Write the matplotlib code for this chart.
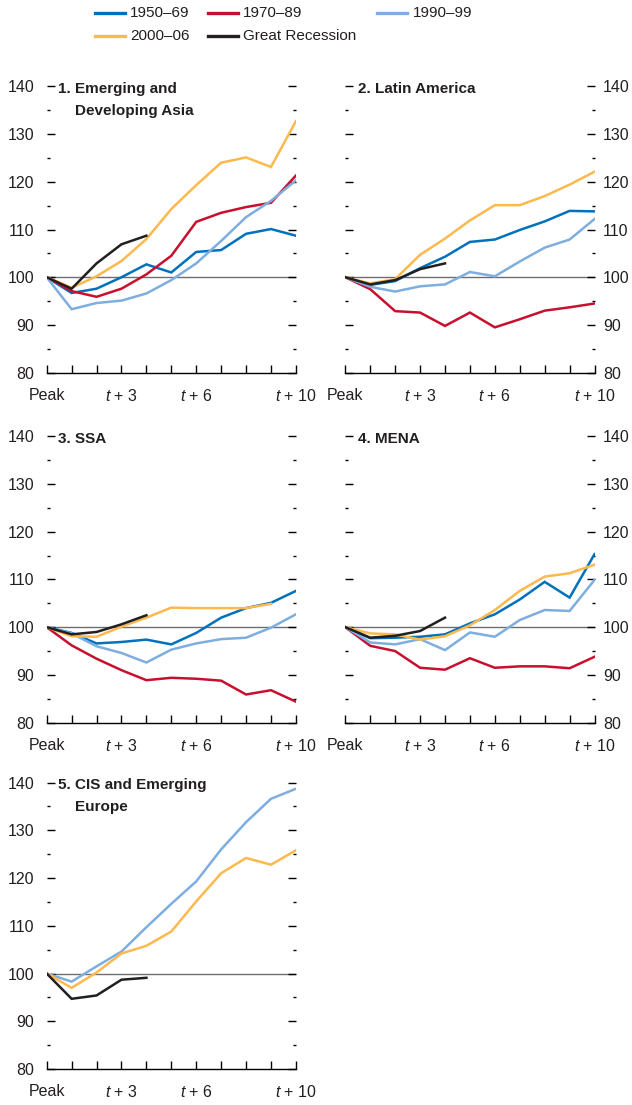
import matplotlib
matplotlib.use("Agg")
import matplotlib.pyplot as plt
from matplotlib import font_manager
from matplotlib.lines import Line2D

names = {f.name for f in font_manager.fontManager.ttflist}
font = "Liberation Sans Narrow" if "Liberation Sans Narrow" in names else "Liberation Sans"
narrow = font.endswith("Narrow")
plt.rcParams["font.family"] = [font, "DejaVu Sans"]
plt.rcParams["mathtext.fontset"] = "custom"
plt.rcParams["mathtext.rm"] = font
plt.rcParams["mathtext.it"] = font + ":italic"

tick_fs = 12.5 if narrow else 11.5
title_fs = 12.5 if narrow else 11
legend_fs = 12.5 if narrow else 11

# data: index (peak = 100), years after peak
years = list(range(11))
series_names = ["1950–69", "1970–89", "1990–99", "2000–06", "Great Recession"]
colors = ["#0072bc", "#c8102e", "#7eaedf", "#fdb94e", "#231f20"]

asia_5069 = [100, 96.7, 97.6, 100.0, 102.7, 101.0, 105.3, 105.7, 109.1, 110.1, 108.7]
asia_7089 = [100, 97.1, 95.9, 97.6, 100.6, 104.5, 111.6, 113.5, 114.7, 115.6, 121.3]
asia_9099 = [100, 93.3, 94.6, 95.1, 96.6, 99.4, 102.9, 107.6, 112.6, 116.0, 120.3]
asia_0006 = [100, 97.8, 100.2, 103.4, 108.0, 114.3, 119.3, 124.0, 125.1, 123.1, 132.7]
asia_gr = [100, 97.6, 102.9, 106.9, 108.7]

latam_5069 = [100, 98.4, 99.2, 101.9, 104.3, 107.4, 107.9, 109.9, 111.7, 113.9, 113.8]
latam_7089 = [100, 97.5, 92.9, 92.6, 89.8, 92.6, 89.5, 91.2, 93.0, 93.7, 94.5]
latam_9099 = [100, 98.0, 97.0, 98.1, 98.5, 101.1, 100.2, 103.3, 106.2, 107.9, 112.2]
latam_0006 = [100, 98.7, 99.6, 104.7, 108.1, 111.9, 115.1, 115.1, 117.0, 119.4, 122.1]
latam_gr = [100, 98.5, 99.4, 101.7, 102.9]

ssa_5069 = [100, 98.8, 96.6, 96.9, 97.4, 96.4, 98.8, 102.0, 104.0, 105.1, 107.6]
ssa_7089 = [100, 96.2, 93.4, 91.0, 88.9, 89.4, 89.2, 88.8, 85.9, 86.8, 84.4]
ssa_9099 = [100, 98.7, 96.0, 94.6, 92.6, 95.3, 96.6, 97.5, 97.8, 99.9, 102.7]
ssa_0006 = [100, 98.1, 98.0, 100.1, 102.0, 104.1, 104.0, 104.0, 104.0, 104.9]
ssa_gr = [100, 98.5, 99.0, 100.6, 102.5]

mena_5069 = [100, 97.7, 97.8, 98.0, 98.5, 100.8, 102.7, 105.8, 109.5, 106.2, 115.3]
mena_7089 = [100, 96.1, 95.0, 91.5, 91.1, 93.5, 91.5, 91.8, 91.8, 91.4, 93.8]
mena_9099 = [100, 96.8, 96.4, 97.5, 95.2, 98.9, 98.0, 101.5, 103.6, 103.4, 109.9]
mena_0006 = [100, 98.7, 98.5, 97.4, 98.1, 100.4, 103.6, 107.6, 110.6, 111.3, 113.1]
mena_gr = [100, 97.8, 98.2, 99.2, 102.0]

cis_9099 = [100, 98.3, 101.5, 104.6, 109.7, 114.6, 119.3, 126.0, 131.7, 136.6, 138.7]
cis_0006 = [100, 97.0, 100.2, 104.2, 105.8, 108.8, 115.1, 121.0, 124.2, 122.8, 125.8]
cis_gr = [100, 94.7, 95.4, 98.7, 99.1]

panels = [
    ("1. Emerging and", "Developing Asia",
     [asia_5069, asia_7089, asia_9099, asia_0006, asia_gr], "left"),
    ("2. Latin America", None,
     [latam_5069, latam_7089, latam_9099, latam_0006, latam_gr], "right"),
    ("3. SSA", None,
     [ssa_5069, ssa_7089, ssa_9099, ssa_0006, ssa_gr], "left"),
    ("4. MENA", None,
     [mena_5069, mena_7089, mena_9099, mena_0006, mena_gr], "right"),
    ("5. CIS and Emerging", "Europe",
     [None, None, cis_9099, cis_0006, cis_gr], "left"),
]

xtick_labels = ["Peak", "", "", "$t$ + 3", "", "", "$t$ + 6", "", "", "", "$t$ + 10"]

fig = plt.figure(figsize=(6.32, 11.05), dpi=100)

lefts = [0.0739, 0.5464]
bottoms = [0.6627, 0.3460, 0.0326]
w, h = 0.3943, 0.2592

for i, (t1, t2, data, side) in enumerate(panels):
    ax = fig.add_axes([lefts[i % 2], bottoms[i // 2], w, h])
    ax.axhline(100, color="#6d6e71", lw=1.0, zorder=1)
    for vals, c in zip(data, colors):
        if vals is None:
            continue
        ax.plot(years[:len(vals)], vals, color=c, lw=1.8, zorder=3,
                solid_joinstyle="miter")
    ax.set_xlim(0, 10)
    ax.set_ylim(80, 140)
    for s in ["top", "left", "right"]:
        ax.spines[s].set_visible(False)
    ax.spines["bottom"].set_linewidth(1.0)
    ax.set_xticks(years)
    ax.set_xticklabels(xtick_labels, fontsize=tick_fs, color="#231f20")
    ax.tick_params(axis="x", direction="in", length=6, width=1, pad=11)
    ax.set_yticks(range(80, 141, 10))
    ax.set_yticks(range(85, 140, 10), minor=True)
    ax.tick_params(axis="y", which="both", direction="in", left=True, right=True,
                   width=1, labelsize=tick_fs, labelcolor="#231f20")
    ax.tick_params(axis="y", which="major", length=6)
    ax.tick_params(axis="y", which="minor", length=2)
    if side == "left":
        ax.tick_params(axis="y", labelleft=True, labelright=False, pad=9)
    else:
        ax.tick_params(axis="y", labelleft=False, labelright=True, pad=6)
    x0 = 0.045 if side == "left" else 0.05
    ax.text(x0, 0.99, t1, transform=ax.transAxes, fontsize=title_fs,
            fontweight="bold", va="center", ha="left", color="#231f20")
    if t2:
        ax.text(x0 + 0.068, 0.915, t2, transform=ax.transAxes, fontsize=title_fs,
                fontweight="bold", va="center", ha="left", color="#231f20")

# legend across the top, laid out row by row
leg_cols = [0.150, 0.329, 0.597]
leg_rows = [1 - 13 / 1105, 1 - 36 / 1105]
for k, (name, c) in enumerate(zip(series_names, colors)):
    r, col = (0, k) if k < 3 else (1, k - 3)
    xl = leg_cols[col]
    y = leg_rows[r]
    fig.add_artist(Line2D([xl, xl + 0.0475], [y, y], color=c, lw=2.4,
                          transform=fig.transFigure))
    fig.text(xl + 0.056, y, name, fontsize=legend_fs, va="center", ha="left",
             color="#231f20")

fig.savefig("out.png", dpi=100)
